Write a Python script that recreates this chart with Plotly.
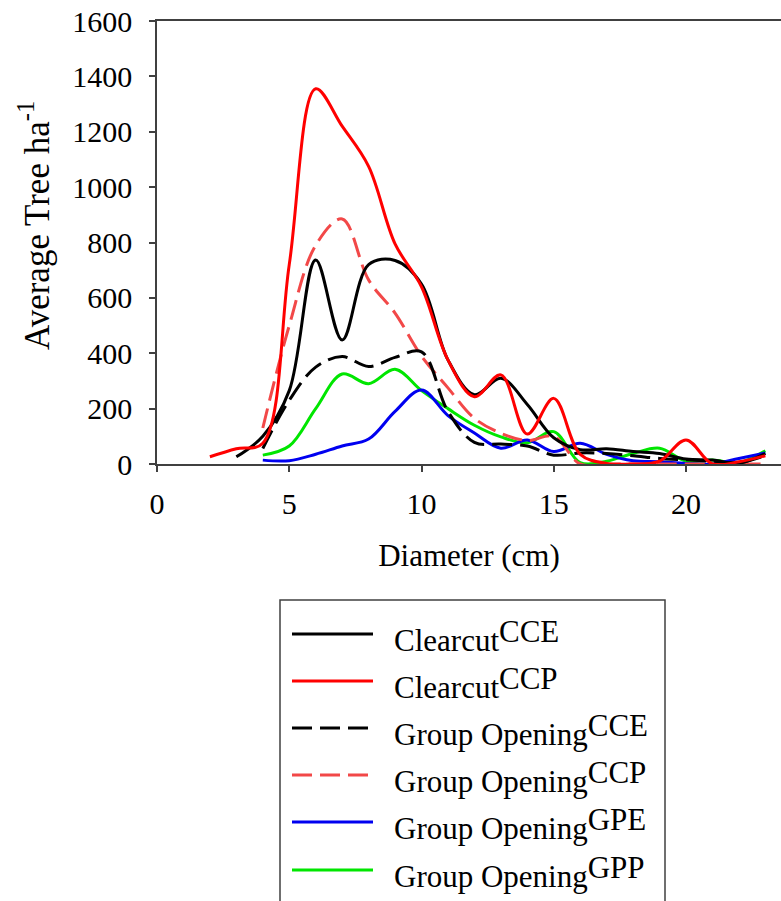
import plotly.graph_objects as go

# Diameter classes (cm) for each series
diam_2 = list(range(2, 24))
diam_3 = list(range(3, 24))
diam_4 = list(range(4, 24))

# Average trees per hectare by diameter class
clearcut_cce = [26, 100, 265, 737, 448, 720, 735, 650, 376, 250, 310, 215, 95, 52, 55, 45, 38, 18, 14, 3, 38]
clearcut_ccp = [26, 55, 75, 720, 1355, 1220, 1075, 795, 640, 376, 243, 322, 108, 237, 35, 2, 0, 10, 87, 0, 8, 30]
group_cce = [56, 230, 350, 388, 352, 385, 405, 190, 78, 72, 65, 32, 40, 38, 30, 20, 15, 10, 5, 30]
group_ccp = [130, 500, 790, 885, 665, 545, 390, 275, 165, 111, 85, 100, 0, 0, 0, 0, 0, 0, 0, 0]
group_gpe = [14, 12, 35, 65, 90, 190, 267, 175, 112, 57, 87, 45, 75, 35, 12, 8, 2, 0, 20, 40]
group_gpp = [32, 65, 200, 325, 290, 342, 265, 200, 140, 98, 77, 117, 5, 10, 38, 57, 10, 14, 5, 48]

y_ticks = [0, 200, 400, 600, 800, 1000, 1200, 1400, 1600]
x_ticks = [0, 5, 10, 15, 20]

series = [
    ("Clearcut", "CCE", diam_3, clearcut_cce, "#000000", "solid"),
    ("Clearcut", "CCP", diam_2, clearcut_ccp, "#ff0000", "solid"),
    ("Group Opening", "CCE", diam_4, group_cce, "#000000", "20px,8px"),
    ("Group Opening", "CCP", diam_4, group_ccp, "#f24848", "20px,8px"),
    ("Group Opening", "GPE", diam_4, group_gpe, "#0000f0", "solid"),
    ("Group Opening", "GPP", diam_4, group_gpp, "#00e600", "solid"),
]

FONT = "Liberation Serif"
W, H = 781, 901
ML, MR, MT, MB = 157, 0, 21, 437
PW, PH = W - ML - MR, H - MT - MB


def px_x(px):
    return (px - ML) / PW


def px_y(py):
    return (H - MB - py) / PH


fig = go.Figure()
# draw order: green and blue underneath, solid reds/blacks on top
for idx in [5, 4, 3, 2, 0, 1]:
    name, sup, xs, ys, color, dash = series[idx]
    fig.add_trace(go.Scatter(
        x=xs, y=ys, mode="lines",
        name=f"{name} {sup}",
        line=dict(color=color, width=3, dash=dash, shape="spline", smoothing=1.0),
        showlegend=False,
    ))

# Legend box with line samples and labels
shapes = [dict(type="rect", xref="paper", yref="paper",
               x0=px_x(280), x1=px_x(665), y0=px_y(940), y1=px_y(600),
               line=dict(color="#404040", width=1.5), fillcolor="rgba(0,0,0,0)")]
annotations = []
row_y = [634, 681, 728, 775, 822, 870]
for (name, sup, xs, ys, color, dash), ry in zip(series, row_y):
    shapes.append(dict(type="line", xref="paper", yref="paper",
                       x0=px_x(292), x1=px_x(373), y0=px_y(ry), y1=px_y(ry),
                       line=dict(color=color, width=3, dash=dash)))
    annotations.append(dict(
        xref="paper", yref="paper", x=px_x(392), y=px_y(ry + 2),
        xanchor="left", yanchor="middle", showarrow=False,
        text=f"{name}<span style='baseline-shift:9px'>{sup}</span>",
        font=dict(family=FONT, size=31, color="#000000"),
    ))

# y-axis title
annotations.append(dict(
    xref="paper", yref="paper", x=px_x(34), y=px_y(226),
    xanchor="center", yanchor="middle", showarrow=False, textangle=-90,
    text="Average Tree ha<sup>-1</sup>",
    font=dict(family=FONT, size=35, color="#000000"),
))

fig.update_layout(
    width=W, height=H,
    margin=dict(l=ML, r=MR, t=MT, b=MB, pad=0),
    paper_bgcolor="white", plot_bgcolor="white",
    font=dict(family=FONT, size=30, color="#000000"),
    shapes=shapes, annotations=annotations,
    showlegend=False,
)
fig.update_xaxes(
    range=[0, PW / 26.45], tickvals=x_ticks, ticks="outside", ticklen=6, tickwidth=1.5,
    tickcolor="#404040", showline=True, linecolor="#404040", linewidth=1.5,
    mirror=True, showgrid=False, zeroline=False, ticklabelstandoff=6,
    title=dict(text="Diameter (cm)", font=dict(family=FONT, size=31), standoff=26),
    tickfont=dict(family=FONT, size=30),
)
fig.update_yaxes(
    range=[0, 1600], tickvals=y_ticks, ticks="outside", ticklen=6, tickwidth=1.5,
    tickcolor="#404040", showline=True, linecolor="#404040", linewidth=1.5,
    showgrid=False, zeroline=False, ticklabelstandoff=11,
    tickfont=dict(family=FONT, size=30),
)

fig.write_html("out.html")
